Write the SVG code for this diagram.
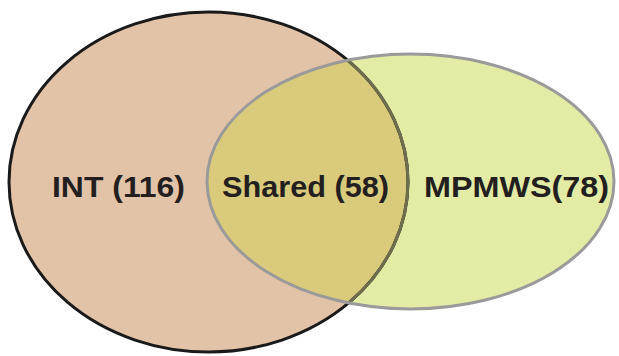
<svg xmlns="http://www.w3.org/2000/svg" width="619" height="356" viewBox="0 0 619 356">
<style>
.lbl{font-family:"Liberation Sans",Arial,sans-serif;font-weight:bold;font-size:30px;fill:#231f20}
</style>
<defs>
<clipPath id="clipL"><ellipse cx="208.5" cy="182" rx="199.5" ry="170"/></clipPath>
<clipPath id="clipR"><ellipse cx="410.5" cy="181.5" rx="203.5" ry="127.5"/></clipPath>
</defs>
<rect width="619" height="356" fill="#ffffff"/>
<g id="int">
<ellipse cx="208.5" cy="182" rx="199.5" ry="170" fill="#e2c3a8"/>
</g>
<g id="mpmws">
<ellipse cx="410.5" cy="181.5" rx="203.5" ry="127.5" fill="#e4eba4"/>
</g>
<g id="shared">
<ellipse cx="410.5" cy="181.5" rx="203.5" ry="127.5" fill="#d9cb7b" clip-path="url(#clipL)"/>
</g>
<g id="outlines">
<ellipse cx="208.5" cy="182" rx="199.5" ry="170" fill="none" stroke="#1a1a1a" stroke-width="3"/>
<ellipse cx="208.5" cy="182" rx="199.5" ry="170" fill="none" stroke="#6e6e4e" stroke-width="3" clip-path="url(#clipR)"/>
<ellipse cx="410.5" cy="181.5" rx="203.5" ry="127.5" fill="none" stroke="#9a9a9a" stroke-width="3"/>
</g>
<g id="labels">
<text class="lbl" x="52" y="197" textLength="133" lengthAdjust="spacingAndGlyphs">INT (116)</text>
<text class="lbl" x="222" y="197" textLength="167" lengthAdjust="spacingAndGlyphs">Shared (58)</text>
<text class="lbl" x="424" y="197" textLength="185" lengthAdjust="spacingAndGlyphs">MPMWS(78)</text>
</g>
</svg>
